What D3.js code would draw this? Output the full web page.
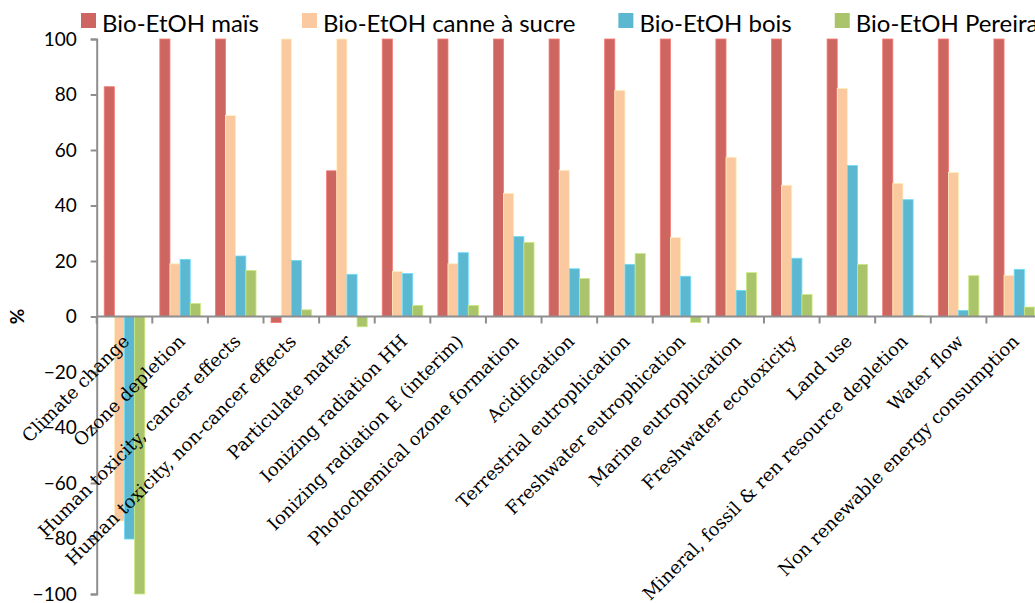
<!DOCTYPE html>
<html>
<head>
<meta charset="utf-8">
<script src="https://cdn.jsdelivr.net/npm/d3@7"></script>
<style>
  html, body { margin: 0; padding: 0; background: #fff; }
  svg { display: block; }
</style>
</head>
<body>
<div id="chart"></div>
<script>
// categories and values (%)
var categories = ["Climate change", "Ozone depletion", "Human toxicity, cancer effects",
  "Human toxicity, non-cancer effects", "Particulate matter", "Ionizing radiation HH",
  "Ionizing radiation E (interim)", "Photochemical ozone formation", "Acidification",
  "Terrestrial eutrophication", "Freshwater eutrophication", "Marine eutrophication",
  "Freshwater ecotoxicity", "Land use", "Mineral, fossil & ren resource depletion",
  "Water flow", "Non renewable energy consumption"];
var seriesNames = ["Bio-EtOH maïs", "Bio-EtOH canne à sucre", "Bio-EtOH bois", "Bio-EtOH Pereira"];
var mais    = [82.8, 100, 100, -2.2, 52.5, 100, 100, 100, 100, 100, 100, 100, 100, 100, 100, 100, 100];
var canne   = [-73.7, 19.0, 72.4, 100, 100, 16.2, 19.0, 44.4, 52.7, 81.5, 28.5, 57.4, 47.3, 82.2, 48.0, 51.9, 14.8];
var bois    = [-80.2, 20.6, 21.8, 20.2, 15.2, 15.5, 23.0, 28.8, 17.2, 18.8, 14.5, 9.4, 21.0, 54.4, 42.1, 2.2, 17.0];
var pereira = [-100, 4.7, 16.6, 2.4, -3.7, 4.0, 4.0, 26.7, 13.7, 22.7, -2.2, 15.8, 7.9, 18.8, 0.4, 14.7, 3.4];
var yTicks = [-100, -80, -60, -40, -20, 0, 20, 40, 60, 80, 100];
var colors = ["#cd6661", "#fbc9a0", "#5cb8d1", "#aac46b"];

var allSeries = [mais, canne, bois, pereira];

var W = 1035, H = 603;
var svg = d3.select("#chart").append("svg")
  .attr("width", W)
  .attr("height", H);

svg.append("rect").attr("width", W).attr("height", H).attr("fill", "white");

// scales
var y = d3.scaleLinear().domain([-100, 100]).range([594, 39]);
var x0 = d3.scaleBand()
  .domain(categories)
  .range([96.7, 1042])
  .paddingInner(0.27)
  .paddingOuter(0.135);
var x1 = d3.scaleBand()
  .domain(d3.range(seriesNames.length))
  .range([0, x0.bandwidth()]);

var axisColor = "#8e8e8e";

// y axis
var yAxis = d3.axisLeft(y).tickValues(yTicks).tickSize(6).tickPadding(14);
var yAxisG = svg.append("g")
  .attr("class", "y-axis")
  .attr("transform", "translate(96.7,0)")
  .call(yAxis);
yAxisG.select(".domain").attr("stroke", axisColor).attr("stroke-width", 2);
yAxisG.selectAll(".tick line").attr("stroke", axisColor).attr("stroke-width", 2);
yAxisG.selectAll("text")
  .attr("fill", "#000")
  .style("font-family", "Lato, 'Open Sans', sans-serif")
  .style("font-size", "19px");

// bars
var groups = svg.selectAll(".cat").data(categories).enter().append("g")
  .attr("class", "cat")
  .attr("transform", function(d) { return "translate(" + x0(d) + ",0)"; });

groups.selectAll("rect")
  .data(function(d, i) { return allSeries.map(function(s, k) { return {k: k, v: s[i]}; }); })
  .enter().append("rect")
    .attr("x", function(d) { return x1(d.k); })
    .attr("width", x1.bandwidth())
    .attr("y", function(d) { return y(Math.max(0, d.v)); })
    .attr("height", function(d) { return Math.abs(y(d.v) - y(0)); })
    .attr("fill", function(d) { return colors[d.k]; })
    .attr("stroke", function(d) { return d3.color(colors[d.k]).brighter(0.5); })
    .attr("stroke-width", 0.8);

// x axis line at zero with category boundary ticks
var step = x0.step();
var xStart = x0(categories[0]) - step * x0.paddingOuter();
var xg = svg.append("g").attr("class", "x-axis");
xg.append("line")
  .attr("x1", 96.7).attr("x2", W)
  .attr("y1", y(0)).attr("y2", y(0))
  .attr("stroke", axisColor).attr("stroke-width", 2);
xg.selectAll(".xtick").data(d3.range(categories.length + 1)).enter().append("line")
  .attr("class", "xtick")
  .attr("x1", function(i) { return xStart + i * step; })
  .attr("x2", function(i) { return xStart + i * step; })
  .attr("y1", y(0)).attr("y2", y(0) + 7)
  .attr("stroke", axisColor).attr("stroke-width", 2);

// category labels, rotated
svg.selectAll(".xlabel").data(categories).enter().append("text")
  .attr("class", "xlabel")
  .attr("text-anchor", "end")
  .attr("transform", function(d) {
    var cx = x0(d) + x0.bandwidth() / 2;
    return "translate(" + (cx + 6) + "," + (y(0) + 26) + ") rotate(-45)";
  })
  .style("font-family", "'DejaVu Serif', serif")
  .style("font-size", "18px")
  .attr("fill", "#000")
  .text(function(d) { return d; });

// y title
svg.append("text")
  .attr("transform", "translate(24," + y(0) + ") rotate(-90)")
  .attr("text-anchor", "middle")
  .style("font-family", "Lato, 'Open Sans', sans-serif")
  .style("font-size", "19px")
  .style("font-weight", "bold")
  .text("%");

// legend
var lx = 81;
seriesNames.forEach(function(name, k) {
  var g = svg.append("g").attr("class", "legend-item");
  g.append("rect")
    .attr("x", lx).attr("y", 13)
    .attr("width", 15).attr("height", 15)
    .attr("fill", colors[k]);
  var t = g.append("text")
    .attr("x", lx + 21).attr("y", 31.5)
    .style("font-family", "Lato, 'Open Sans', sans-serif")
    .style("font-size", "24px")
    .attr("fill", "#000")
    .text(name);
  lx += 21 + t.node().getComputedTextLength() + 43;
});
</script>
</body>
</html>
